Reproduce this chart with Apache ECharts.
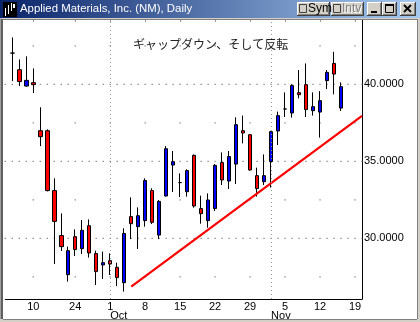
<!DOCTYPE html>
<html><head><meta charset="utf-8">
<script src="https://cdn.jsdelivr.net/npm/echarts@6/dist/echarts.min.js"></script>
<style>html,body{margin:0;padding:0;background:#fff}#c{width:420px;height:322px}</style>
</head><body><div id="c"></div>
<script>
// ---- data (Applied Materials, daily, Sep-Nov 2001) ----
const dates = ['2001-09-04','2001-09-05','2001-09-06','2001-09-07','2001-09-10','2001-09-17','2001-09-18','2001-09-19','2001-09-20','2001-09-21','2001-09-24','2001-09-25','2001-09-26','2001-09-27','2001-09-28',
'2001-10-01','2001-10-02','2001-10-03','2001-10-04','2001-10-05','2001-10-08','2001-10-09','2001-10-10','2001-10-11','2001-10-12','2001-10-15','2001-10-16','2001-10-17','2001-10-18','2001-10-19','2001-10-22','2001-10-23','2001-10-24','2001-10-25','2001-10-26','2001-10-29','2001-10-30','2001-10-31',
'2001-11-01','2001-11-02','2001-11-05','2001-11-06','2001-11-07','2001-11-08','2001-11-09','2001-11-12','2001-11-13','2001-11-14','2001-11-15','2001-11-16','2001-11-19','2001-11-20'];
const opens  = [null,42.03,40.95,39.89,40.11,36.99,36.99,33.10,30.18,27.64,30.11,29.33,30.82,29.01,28.27,28.55,28.12,27.12,31.41,30.76,31.15,33.10,30.21,32.75,34.76,33.62,33.03,35.39,31.93,31.15,31.93,34.92,33.72,34.82,36.99,36.73,34.07,33.68,34.98,36.97,38.40,38.14,39.46,39.98,38.29,38.20,40.24,41.36,38.46,null,null,null];
const closes = [null,42.03,40.18,40.26,39.98,36.60,33.10,31.10,29.46,29.20,29.27,30.52,29.05,27.84,28.42,28.33,27.45,30.32,30.95,31.47,33.75,31.04,32.40,35.82,34.98,33.62,34.40,32.10,31.60,32.49,34.74,33.79,35.31,37.38,36.84,34.44,33.23,34.07,36.93,37.97,38.40,39.92,39.33,38.36,38.55,38.94,40.78,40.67,39.85,null,null,null];
const lows   = [null,40.21,39.89,39.85,39.44,35.99,33.05,28.33,29.18,27.19,28.85,28.98,28.75,26.97,27.36,27.62,26.90,26.54,29.95,29.31,30.76,30.93,29.95,32.71,33.01,32.68,32.71,31.99,30.95,30.69,31.77,33.46,33.20,33.53,36.17,34.40,32.71,33.46,33.30,36.06,37.88,37.84,39.09,37.88,37.97,36.54,39.69,39.35,38.27,null,null,null];
const highs  = [null,43.05,41.62,41.82,41.04,38.51,37.08,33.90,31.62,29.46,30.58,31.19,31.23,29.20,29.14,29.03,28.42,30.65,32.66,32.01,33.90,33.25,32.49,35.99,35.67,34.22,34.48,35.45,32.77,32.92,34.82,35.58,35.67,37.86,37.97,36.78,34.59,35.45,36.98,38.23,39.48,40.00,40.93,41.36,39.48,39.56,40.93,42.12,40.13,null,null,null];
const weekLabelDates = ['2001-09-10','2001-09-24','2001-10-01','2001-10-08','2001-10-15','2001-10-22','2001-10-29','2001-11-05','2001-11-12','2001-11-19'];
const monthStartDates = ['2001-10-01','2001-11-01'];
const monthNames = {'10':'Oct','11':'Nov'};
const priceLabels = [30, 35, 40];
const majorDotLevels = [30, 35, 40];
const minorDotLevels = [27.5, 32.5, 37.5, 42.5];
const trendDates = ['2001-10-04','2001-11-20'];
const trendValues = [26.86, 37.96];
const annotation = 'ギャップダウン、そして反転';
const windowTitle = 'Applied Materials, Inc. (NM), Daily';

// ---- derived ----
const candleData = dates.map((d,i) => opens[i] == null ? ['-','-','-','-'] : [opens[i], closes[i], lows[i], highs[i]]);
const weekSet = new Set(weekLabelDates);
const monthSet = new Set(monthStartDates);
const majorDots = [];
dates.forEach(d => majorDotLevels.forEach(v => majorDots.push([d, v])));
const minorDots = [];
weekLabelDates.forEach(d => minorDotLevels.forEach(v => minorDots.push([d, v])));
const trendData = trendDates.map((d,i) => [d, trendValues[i]]);

function btn(x, y, w, h) {
  return [
    {type:'rect', shape:{x:x, y:y, width:w, height:h}, style:{fill:'#404040'}},
    {type:'rect', shape:{x:x, y:y, width:w-1, height:h-1}, style:{fill:'#FFFFFF'}},
    {type:'rect', shape:{x:x+1, y:y+1, width:w-2, height:h-2}, style:{fill:'#808080'}},
    {type:'rect', shape:{x:x+1, y:y+1, width:w-3, height:h-3}, style:{fill:'#D4D0C8'}}
  ];
}
const FONT = '"Liberation Sans", Arial, sans-serif';
const deco = [].concat(
  [{type:'rect', shape:{x:0,y:0,width:420,height:18}, style:{fill:{type:'linear',x:0,y:0,x2:1,y2:0,colorStops:[{offset:0,color:'#0A246A'},{offset:1,color:'#A6CAF0'}]}}},
   {type:'rect', shape:{x:3,y:2,width:14,height:15}, style:{fill:'#000'}},
   {type:'rect', shape:{x:5,y:8,width:1,height:8}, style:{fill:'#fff'}},
   {type:'rect', shape:{x:8,y:5,width:1,height:9}, style:{fill:'#fff'}},
   {type:'rect', shape:{x:11,y:3,width:1,height:8}, style:{fill:'#fff'}},
   {type:'rect', shape:{x:13,y:4,width:2,height:4}, style:{fill:'#fff'}},
   {type:'text', x:20, y:9, style:{text:windowTitle, fill:'#fff', font:'11.4px ' + FONT, verticalAlign:'middle'}},
   {type:'rect', shape:{x:0,y:18,width:420,height:2}, style:{fill:'#D4D0C8'}},
   {type:'rect', shape:{x:0,y:19,width:420,height:1}, style:{fill:'#808080'}},
   {type:'rect', shape:{x:0,y:18,width:1,height:304}, style:{fill:'#A0A0A0'}},
   {type:'rect', shape:{x:1,y:19,width:2,height:303}, style:{fill:'#606060'}},
   {type:'rect', shape:{x:417,y:18,width:3,height:304}, style:{fill:'#D4D0C8'}},
   {type:'rect', shape:{x:417,y:19,width:1,height:301}, style:{fill:'#808080'}},
   {type:'rect', shape:{x:0,y:319,width:420,height:3}, style:{fill:'#D4D0C8'}},
   {type:'rect', shape:{x:3,y:319,width:414,height:1}, style:{fill:'#808080'}}
  ],
  btn(297,2,33,14), btn(331,2,33,14), btn(367,2,15,14), btn(382,2,15,14), btn(400,2,16,14),
  [{type:'rect', shape:{x:299.5,y:4.5,width:7,height:8}, style:{fill:'#D4D0C8', stroke:'#404040', lineWidth:1}},
   {type:'text', x:308, y:9, style:{text:'Sym', fill:'#000', font:'12px ' + FONT, verticalAlign:'middle'}},
   {type:'rect', shape:{x:333.5,y:4.5,width:7,height:8}, style:{fill:'#D4D0C8', stroke:'#404040', lineWidth:1}},
   {type:'text', x:343, y:10, style:{text:'Intv', fill:'#FFFFFF', font:'12px ' + FONT, verticalAlign:'middle'}},
   {type:'text', x:342, y:9, style:{text:'Intv', fill:'#808080', font:'12px ' + FONT, verticalAlign:'middle'}},
   {type:'rect', shape:{x:371,y:11,width:6,height:2}, style:{fill:'#000'}},
   {type:'rect', shape:{x:385.5,y:4.5,width:8,height:8}, style:{fill:'none', stroke:'#000', lineWidth:1}},
   {type:'rect', shape:{x:385,y:4,width:9,height:2}, style:{fill:'#000'}},
   {type:'line', shape:{x1:404,y1:5,x2:411,y2:12}, style:{stroke:'#000', lineWidth:1.8}},
   {type:'line', shape:{x1:411,y1:5,x2:404,y2:12}, style:{stroke:'#000', lineWidth:1.8}}
  ]
).map(e => Object.assign({z:100, silent:true}, e));

const chart = echarts.init(document.getElementById('c'), null, {renderer:'canvas', width:420, height:322});
const catAxisBase = {type:'category', data:dates, boundaryGap:false, splitLine:{show:false}};
chart.setOption({
  animation:false,
  backgroundColor:'#fff',
  textStyle:{fontFamily:FONT},
  title:{text:annotation, left:133, top:38, padding:0, textStyle:{fontSize:12, fontWeight:'normal', color:'#222', fontFamily:'"Noto Sans CJK JP", sans-serif'}},
  grid:{left:5.3, right:58, top:20, bottom:23},
  xAxis:[
    Object.assign({}, catAxisBase, {position:'bottom',
      axisLine:{show:true, lineStyle:{color:'#000', width:1}},
      axisTick:{show:false},
      axisLabel:{interval:(i,v)=>weekSet.has(v), formatter:v=>String(parseInt(v.slice(8),10)), fontSize:11, color:'#000', margin:2}}),
    Object.assign({}, catAxisBase, {position:'bottom',
      axisLine:{show:false}, axisTick:{show:false},
      axisLabel:{interval:(i,v)=>monthSet.has(v), formatter:v=>monthNames[v.slice(5,7)], align:'left', fontSize:11, color:'#000', margin:11}}),
    Object.assign({}, catAxisBase, {position:'top',
      axisLine:{show:false},
      axisTick:{show:true, inside:true, length:2, interval:(i,v)=>weekSet.has(v), lineStyle:{color:'#999'}},
      axisLabel:{show:false}})
  ],
  yAxis:{type:'value', position:'right', min:26.06, max:44.18, scale:true,
    axisLine:{show:true, lineStyle:{color:'#000', width:1}},
    axisTick:{show:false}, splitLine:{show:false},
    axisLabel:{customValues:priceLabels, formatter:v=>Number(v).toFixed(4), fontSize:11, color:'#000', margin:2}},
  graphic:deco,
  series:[
    {type:'scatter', data:majorDots, symbol:'rect', symbolSize:1.4, itemStyle:{color:'#707070'}, silent:true, z:1,
      markLine:{silent:true, symbol:['none','none'], label:{show:false}, lineStyle:{color:'#999', type:[1,3], width:1},
        data:monthStartDates.map(d=>({xAxis:d}))}},
    {type:'scatter', data:minorDots, symbol:'rect', symbolSize:1.4, itemStyle:{color:'#707070'}, silent:true, z:1},
    {type:'candlestick', data:candleData, barWidth:4, z:3, emphasis:{disabled:true},
      itemStyle:{color:'#0000FF', color0:'#FF0000', borderColor:'#000', borderColor0:'#000', borderColorDoji:'#000', borderWidth:1}},
    {type:'line', data:trendData, showSymbol:false, symbol:'none', z:4, silent:true,
      lineStyle:{color:'#FF0000', width:2.2}}
  ]
});
</script></body></html>
